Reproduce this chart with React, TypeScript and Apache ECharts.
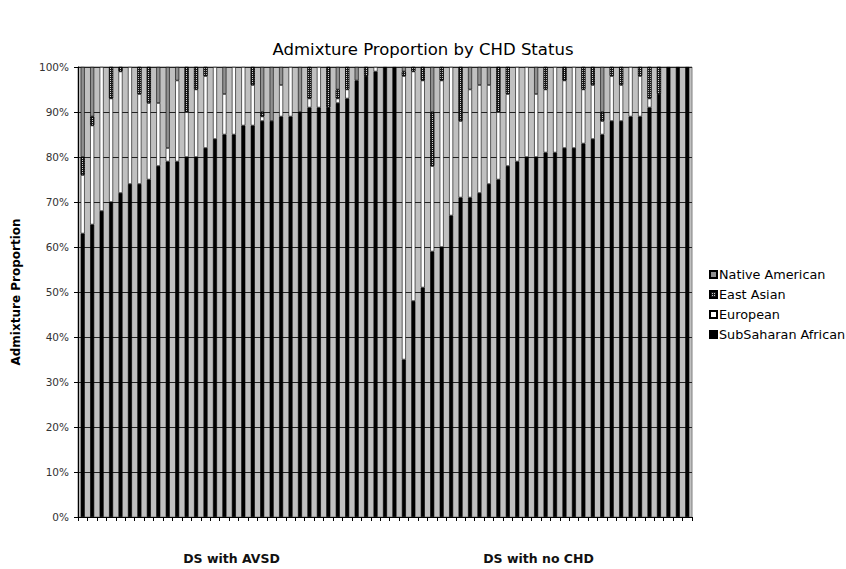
import React, { useEffect, useRef } from 'react';
import * as echarts from 'echarts';

const titleText = 'Admixture Proportion by CHD Status';
const yAxisName = 'Admixture Proportion';
const groupNames = ['DS with AVSD', 'DS with no CHD'];
const seriesNames = ['SubSaharan African', 'European', 'East Asian', 'Native American'];
const legendOrder = ['Native American', 'East Asian', 'European', 'SubSaharan African'];

// DS with AVSD (34 individuals), percent
const avsdSubSaharan = [63, 65, 68, 70, 72, 74, 74, 75, 78, 79, 79, 80, 80, 82, 84, 85, 85, 87, 87, 88, 88, 89, 89, 90, 91, 91, 91, 92, 93, 97, 98, 99, 100, 100];
const avsdEuropean = [13, 22, 32, 23, 27, 26, 20, 17, 14, 3, 18, 10, 15, 16, 16, 9, 15, 13, 9, 1, 0, 7, 11, 0, 2, 9, 0, 1, 2, 0, 0, 1, 0, 0];
const avsdEastAsian = [4, 2, 0, 7, 1, 0, 6, 8, 0, 0, 0, 10, 5, 2, 0, 0, 0, 0, 4, 1, 0, 0, 0, 0, 7, 0, 9, 2, 5, 0, 2, 0, 0, 0];
const avsdNativeAmerican = [20, 11, 0, 0, 0, 0, 0, 0, 8, 18, 3, 0, 0, 0, 0, 6, 0, 0, 0, 10, 12, 4, 0, 10, 0, 0, 0, 5, 0, 3, 0, 0, 0, 0];

// DS with no CHD (31 individuals), percent
const noChdSubSaharan = [35, 48, 51, 59, 60, 67, 71, 71, 72, 74, 75, 78, 79, 80, 80, 81, 81, 82, 82, 83, 84, 85, 88, 88, 89, 89, 91, 94, 100, 100, 100];
const noChdEuropean = [63, 51, 46, 19, 37, 33, 17, 24, 24, 22, 15, 16, 21, 20, 14, 14, 19, 15, 18, 12, 12, 3, 10, 8, 11, 9, 2, 0, 0, 0, 0];
const noChdEastAsian = [1, 1, 3, 12, 3, 0, 12, 0, 0, 0, 10, 6, 0, 0, 0, 5, 0, 3, 0, 5, 4, 2, 2, 4, 0, 2, 7, 6, 0, 0, 0];
const noChdNativeAmerican = [1, 0, 0, 10, 0, 0, 0, 5, 4, 4, 0, 0, 0, 0, 6, 0, 0, 0, 0, 0, 0, 10, 0, 0, 0, 0, 0, 0, 0, 0, 0];

const categories = [
  ...avsdSubSaharan.map((_, i) => `${groupNames[0]} #${i + 1}`),
  ...noChdSubSaharan.map((_, i) => `${groupNames[1]} #${i + 1}`),
];

const seriesValues = [
  [...avsdSubSaharan, ...noChdSubSaharan],
  [...avsdEuropean, ...noChdEuropean],
  [...avsdEastAsian, ...noChdEastAsian],
  [...avsdNativeAmerican, ...noChdNativeAmerican],
];

const FONT = 'DejaVu Sans';

const seriesStyles: any[] = [
  { color: '#000000' },
  { color: '#ffffff' },
  {
    color: '#1a1a1a',
    decal: { symbol: 'rect', symbolSize: 1, color: '#d0d0d0', dashArrayX: [1, 1], dashArrayY: [1, 1], rotation: 0 },
  },
  { color: '#909090' },
];

export default function App() {
  const ref = useRef<HTMLDivElement>(null);
  useEffect(() => {
    const chart = echarts.init(ref.current!, null, { renderer: 'svg' });
    const option: any = {
      animation: false,
      backgroundColor: '#ffffff',
      title: {
        text: titleText,
        left: 'center',
        top: 36,
        textStyle: { fontFamily: FONT, fontSize: 16.5, fontWeight: 'normal', color: '#000' },
      },
      legend: {
        data: legendOrder,
        orient: 'vertical',
        left: 704,
        top: 263,
        itemWidth: 7,
        itemHeight: 7,
        itemGap: 7,
        icon: 'rect',
        textStyle: { fontFamily: FONT, fontSize: 12.8, color: '#000', padding: [0, 0, 0, -3] },
      },
      grid: {
        left: 78,
        right: 154,
        top: 67,
        bottom: 52,
        show: true,
        backgroundColor: '#c0c0c0',
        borderColor: '#808080',
        borderWidth: 1,
        outerBoundsMode: 'none',
      },
      xAxis: [
        {
          type: 'category',
          data: categories,
          boundaryGap: true,
          axisLine: { show: true, lineStyle: { color: '#000', width: 1 } },
          axisTick: { show: true, interval: 0, length: 4, lineStyle: { color: '#000' } },
          axisLabel: { show: false },
          splitLine: { show: false },
        },
        {
          type: 'category',
          data: groupNames,
          position: 'bottom',
          boundaryGap: true,
          axisLine: { show: false },
          axisTick: { show: false },
          axisLabel: {
            margin: 35,
            fontFamily: FONT,
            fontSize: 12.5,
            fontWeight: 'bold',
            color: '#111',
          },
          splitLine: { show: false },
        },
      ],
      yAxis: {
        type: 'value',
        min: 0,
        max: 100,
        interval: 10,
        name: yAxisName,
        nameLocation: 'middle',
        nameGap: 56,
        nameTextStyle: { fontFamily: FONT, fontSize: 12, fontWeight: 'bold', color: '#000' },
        axisLine: { show: true, lineStyle: { color: '#000' } },
        axisTick: { show: true, length: 4, lineStyle: { color: '#000' } },
        axisLabel: { formatter: '{value}%', fontFamily: FONT, fontSize: 10.5, color: '#333', margin: 9 },
        splitLine: { show: true, lineStyle: { color: '#222', width: 1, type: 'solid' } },
      },
      series: seriesNames.map((name, si) => ({
        name,
        type: 'bar',
        stack: 'total',
        xAxisIndex: 0,
        barWidth: 4,
        itemStyle: { ...seriesStyles[si], borderColor: '#000', borderWidth: 0.6 },
        emphasis: { disabled: true },
        data: seriesValues[si].map((v) => (v === 0 ? null : v)),
      })),
    };
    chart.setOption(option);
    return () => chart.dispose();
  }, []);
  return <div ref={ref} style={{ position: 'fixed', left: 0, top: 0, width: 846, height: 569 }} />;
}
